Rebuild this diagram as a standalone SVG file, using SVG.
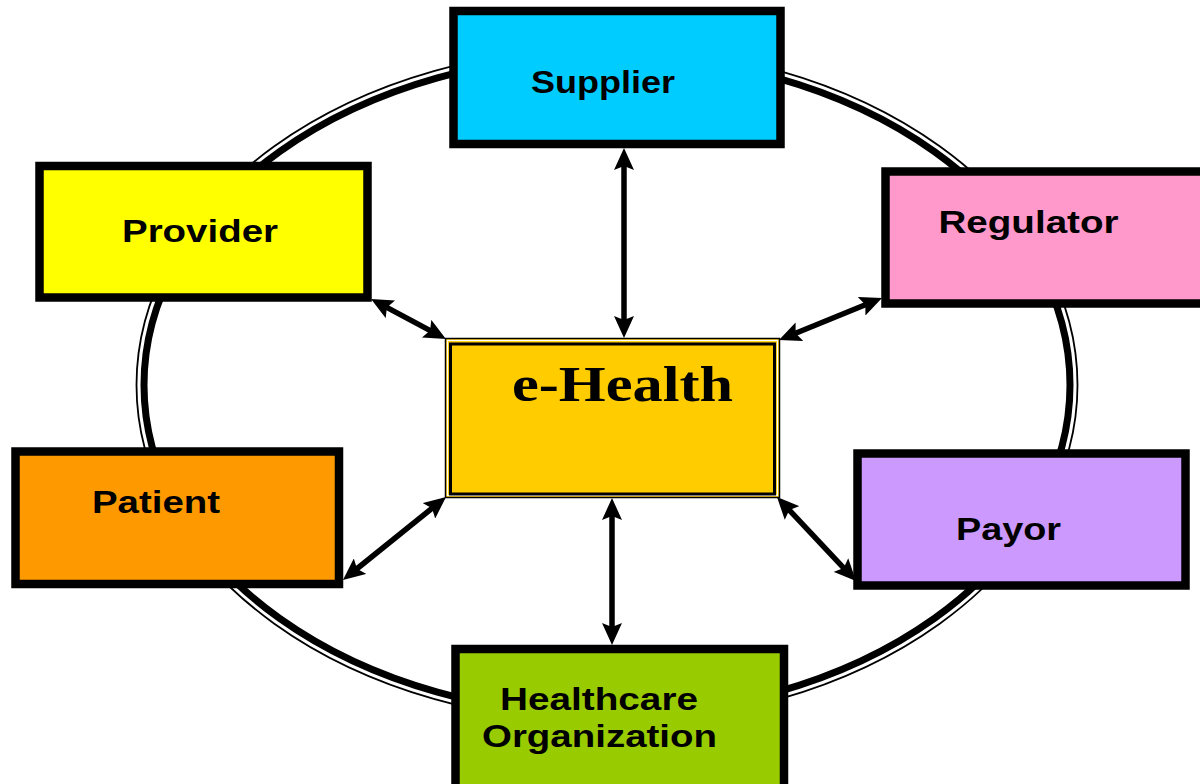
<svg xmlns="http://www.w3.org/2000/svg" width="1200" height="784" viewBox="0 0 1200 784">
<style>
.box{stroke:#000;stroke-width:8.5}
.lbl{font-family:"Liberation Sans",Arial,sans-serif;font-weight:bold;font-size:31px;fill:#000}
.conn{stroke:#000;stroke-width:5.5;fill:none;marker-start:url(#ah);marker-end:url(#ah)}
</style>
<defs>
<marker id="ah" markerUnits="userSpaceOnUse" viewBox="0 0 22 20" refX="10" refY="10" markerWidth="22" markerHeight="20" orient="auto-start-reverse">
<path d="M0,0 L22,10 L0,20 L4,10 z" fill="#000"/>
</marker>
</defs>
<rect width="1200" height="784" fill="#fff"/>
<g id="ring" fill="none" stroke="#000">
<ellipse cx="607" cy="385" rx="470.5" ry="337.5" stroke-width="1.8"/>
<ellipse cx="607" cy="385" rx="463" ry="330" stroke-width="7"/>
</g>
<g id="supplier">
<rect class="box" x="453.5" y="11" width="327" height="133" fill="#00CCFF"/>
<text class="lbl" x="531" y="93" textLength="144" lengthAdjust="spacingAndGlyphs">Supplier</text>
</g>
<g id="provider">
<rect class="box" x="39.5" y="166" width="328" height="131.5" fill="#FFFF00"/>
<text class="lbl" x="122" y="241.5" textLength="156" lengthAdjust="spacingAndGlyphs">Provider</text>
</g>
<g id="regulator">
<rect class="box" x="885.5" y="171.5" width="330" height="132" fill="#FF99CC"/>
<text class="lbl" x="938.5" y="232.5" textLength="180" lengthAdjust="spacingAndGlyphs">Regulator</text>
</g>
<g id="patient">
<rect class="box" x="15.5" y="451.5" width="323.5" height="132.5" fill="#FF9900"/>
<text class="lbl" x="92" y="512.5" textLength="128" lengthAdjust="spacingAndGlyphs">Patient</text>
</g>
<g id="payor">
<rect class="box" x="857.5" y="453.5" width="328" height="132" fill="#CC99FF"/>
<text class="lbl" x="956" y="540" textLength="105" lengthAdjust="spacingAndGlyphs">Payor</text>
</g>
<g id="healthcare-organization">
<rect class="box" x="455.5" y="649" width="328.5" height="145" fill="#99CC00"/>
<text class="lbl" x="500" y="710" textLength="198" lengthAdjust="spacingAndGlyphs">Healthcare</text>
<text class="lbl" x="482" y="747" textLength="235" lengthAdjust="spacingAndGlyphs">Organization</text>
</g>
<g id="e-health">
<rect x="445.5" y="338.5" width="334" height="159" fill="#FFCC00" stroke="#000" stroke-width="1.5"/>
<rect x="447.5" y="340.5" width="330" height="155" fill="none" stroke="#fff" stroke-width="1.2"/>
<rect x="450.5" y="344" width="324" height="150" fill="none" stroke="#000" stroke-width="3"/>
<text x="512" y="401" font-family="'Liberation Serif','Times New Roman',serif" font-weight="bold" font-size="50" textLength="221" lengthAdjust="spacingAndGlyphs">e-Health</text>
</g>
<g id="connectors">
<line class="conn" x1="624" y1="160" x2="624" y2="326"/>
<line class="conn" x1="612" y1="510" x2="612" y2="633"/>
<line class="conn" x1="381.6" y1="304.6" x2="435.4" y2="333.4"/>
<line class="conn" x1="870.9" y1="302.5" x2="790.1" y2="335.5"/>
<line class="conn" x1="352.3" y1="572.5" x2="436.7" y2="504.5"/>
<line class="conn" x1="785.2" y1="505.7" x2="847.8" y2="572.3"/>
</g>
</svg>
